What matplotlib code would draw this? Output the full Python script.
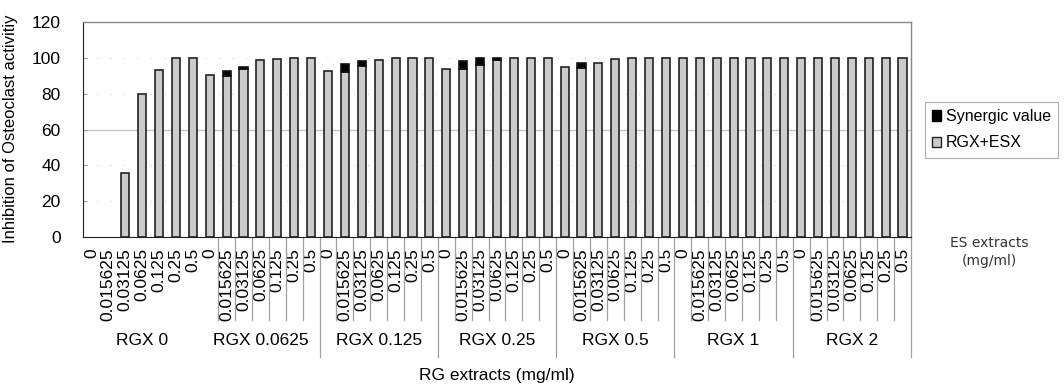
import matplotlib.pyplot as plt
import matplotlib.transforms as mtransforms
from matplotlib.patches import Patch
import numpy as np

plt.rcParams['font.family'] = ['Liberation Sans', 'DejaVu Sans']

# ES extract concentrations (mg/ml) inside each RG group
es_labels = ['0', '0.015625', '0.03125', '0.0625', '0.125', '0.25', '0.5']
rg_labels = ['RGX 0', 'RGX 0.0625', 'RGX 0.125', 'RGX 0.25', 'RGX 0.5', 'RGX 1', 'RGX 2']

# inhibition with RGX+ESX combined (%), one row per RG group
rgx_esx = [
    [0, 0, 36, 79.8, 93.4, 100, 100],
    [90.4, 90, 93.8, 98.7, 99.4, 100, 100],
    [92.5, 92, 95.3, 98.7, 100, 100, 100],
    [94, 93.6, 96, 99, 100, 100, 100],
    [94.8, 94.4, 97, 99.3, 100, 100, 100],
    [100, 100, 100, 100, 100, 100, 100],
    [100, 100, 100, 100, 100, 100, 100],
]
# synergic value stacked on top
synergic = [
    [0, 0, 0, 0, 0, 0, 0],
    [0, 2.5, 1.2, 0, 0, 0, 0],
    [0, 4.6, 2.8, 0, 0, 0, 0],
    [0, 4.5, 4.0, 1.0, 0, 0, 0],
    [0, 2.8, 0, 0, 0, 0, 0],
    [0, 0, 0, 0, 0, 0, 0],
    [0, 0, 0, 0, 0, 0, 0],
]

base = np.array(rgx_esx).ravel()
top = np.array(synergic).ravel()
n_es = len(es_labels)
n = len(base)
x = np.arange(n) + 0.5

fig = plt.figure(figsize=(10.64, 3.89), dpi=100)
ax = fig.add_axes([0.078, 0.3907, 0.7782, 0.5527])

# empty values are left out so no outline is drawn on the axis
W = 0.48
nb = base > 0
ax.bar(x[nb], base[nb], width=W, color='#cbcbcb', edgecolor='#222222', linewidth=1.2, zorder=3)
ns = top > 0
ax.bar(x[ns], top[ns], width=W, bottom=base[ns], color='black', edgecolor='#111111',
       linewidth=1.2, zorder=3)

ax.set_xlim(0, n)
ax.set_ylim(0, 120)
ax.set_yticks(range(0, 121, 20))
ax.tick_params(axis='y', direction='in', length=3, color='#999999', pad=16, labelsize=12.5)

# gridlines: one solid at 60, faint marks at the others
ax.axhline(60, color='#c4c4c4', linewidth=1, zorder=1)
for yv in (20, 40, 80, 100):
    ax.axhline(yv, color='#c8c8c8', linewidth=0.8, linestyle=(0, (0.8, 11.4)), zorder=1)

ax.set_xticks(x)
ax.set_xticklabels(es_labels * len(rg_labels), rotation=90, fontsize=12.5, va='top')
ax.tick_params(axis='x', length=0, pad=8)

for side in ('top', 'right'):
    ax.spines[side].set_color('#888888')
    ax.spines[side].set_linewidth(1)
ax.spines['left'].set_color('#222222')
ax.spines['bottom'].set_color('#222222')

ax.set_ylabel('Inhibition of Osteoclast activitiy', fontsize=12)
ax.yaxis.set_label_coords(-0.0785, 0.502)

# category separators and RG group labels under the axis
trans = mtransforms.blended_transform_factory(ax.transData, ax.transAxes)
for g, name in enumerate(rg_labels):
    start = g * n_es
    if g > 0:
        for k in range(start + 1, start + n_es):
            ax.plot([k, k], [0, -0.386], transform=trans, color='#a0a0a0',
                    linewidth=0.9, clip_on=False)
        ax.plot([start + n_es, start + n_es], [0, -0.558], transform=trans,
                color='#a0a0a0', linewidth=0.9, clip_on=False)
    ax.text(start + n_es / 2, -0.479, name, transform=trans, ha='center',
            va='center', fontsize=12.5)

ax.text(0.5, -0.642, 'RG extracts (mg/ml)', transform=ax.transAxes, ha='center',
        va='center', fontsize=12.5)

fig.text(0.930, 1 - 252 / 389, 'ES extracts\n(mg/ml)', ha='center', va='center',
         fontsize=10, color='#333333', family='DejaVu Sans', linespacing=1.3)

handles = [Patch(facecolor='black', edgecolor='black', label='Synergic value'),
           Patch(facecolor='#cbcbcb', edgecolor='#222222', label='RGX+ESX')]
leg = fig.legend(handles=handles, loc='upper left', bbox_to_anchor=(0.869, 1 - 102 / 389),
                 fontsize=11.5, frameon=True, fancybox=False, handlelength=0.6,
                 handleheight=0.6, handletextpad=0.3, borderpad=0.45, labelspacing=0.7,
                 borderaxespad=0)
leg.get_frame().set_edgecolor('#999999')
leg.get_frame().set_linewidth(0.8)

fig.savefig('out.png', dpi=100)
